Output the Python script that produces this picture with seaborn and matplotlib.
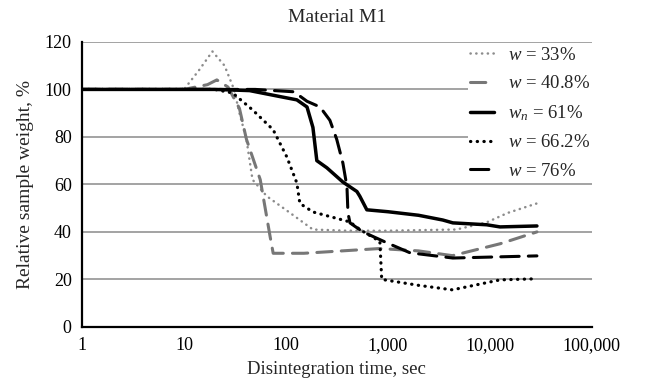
import numpy as np
import pandas as pd
import matplotlib
matplotlib.use('Agg')
import matplotlib.pyplot as plt
import matplotlib.ticker as ticker
import seaborn as sns

# 데이터
w33_t = [1, 5, 10, 14, 19, 25, 31, 35, 41, 47, 65, 102, 184, 400, 1000, 2500, 4700, 9300, 15000, 29000]
w33_v = [100, 100, 100, 108, 116, 110, 100, 90, 79, 62, 55, 49, 41, 40.5, 40.5, 40.8, 41, 44, 48, 52]

w40_t = [1, 10, 17, 21, 27, 35, 41, 56, 70, 75, 150, 834, 2000, 4300, 12600, 29000]
w40_v = [100, 100, 102, 104, 101, 92, 79, 62, 38, 31, 31, 33, 32, 30, 35, 40]

w61_t = [1, 20, 44, 87, 128, 161, 184, 201, 252, 362, 497, 531, 622, 1000, 2000, 3460, 4340, 9330, 12600, 29000]
w61_v = [100, 100, 99.5, 97, 95.6, 92.6, 84, 70, 67, 61, 57, 55, 49.3, 48.5, 47, 45, 43.8, 43, 42.1, 42.5]

w66_t = [1, 20, 30, 47, 75, 102, 128, 137, 184, 424, 531, 835, 870, 2000, 4300, 12600, 26000]
w66_v = [100, 100, 98.5, 91.4, 83, 71.6, 60.6, 52, 48.4, 44.2, 41, 36, 20, 17.5, 15.6, 19.8, 20.2]

w76_t = [1, 50, 120, 161, 216, 270, 315, 362, 397, 406, 425, 569, 980, 1650, 4340, 29000]
w76_v = [100, 100, 99, 95, 92.6, 87, 79, 69, 59, 48, 43.8, 40, 35.4, 31.2, 29, 29.9]

labels = [r'$w$ = 33%', r'$w$ = 40.8%', r'$w_n$ = 61%', r'$w$ = 66.2%', r'$w$ = 76%']
x_ticks = [1, 10, 100, 1000, 10000, 100000]
x_ticklabels = ['1', '10', '100', '1,000', '10,000', '100,000']

# (시간, 값, 색, 선 스타일, 두께)
series = [
    (w33_t, w33_v, '#8c8c8c', (0, (0.1, 2.2)), 1.8),
    (w40_t, w40_v, '#777777', (0, (5, 3)), 2.2),
    (w61_t, w61_v, 'black', '-', 2.5),
    (w66_t, w66_v, 'black', (0, (0.1, 2.0)), 2.3),
    (w76_t, w76_v, 'black', (0, (6, 3)), 2.2),
]

sns.set_style('white')
plt.rcParams['font.family'] = ['Liberation Serif', 'DejaVu Serif']
plt.rcParams['mathtext.fontset'] = 'custom'
plt.rcParams['mathtext.rm'] = 'Liberation Serif'
plt.rcParams['mathtext.it'] = 'Liberation Serif:italic'

fig = plt.figure(figsize=(6.46, 3.81), dpi=100)
ax = fig.add_axes([0.127, 0.142, 0.789, 0.748])

for (t, v, c, ls, lw), lab in zip(series, labels):
    df = pd.DataFrame({'t': t, 'v': v})
    sns.lineplot(data=df, x='t', y='v', ax=ax, color=c, linestyle=ls, linewidth=lw,
                 label=lab, dash_capstyle='round')

ax.set_xscale('log')
ax.set_xlim(1, 100000)
ax.set_ylim(0, 120)
ax.set_xticks(x_ticks)
ax.set_xticklabels(x_ticklabels)
ax.xaxis.set_minor_locator(ticker.NullLocator())
ax.set_yticks(range(0, 121, 20))
ax.grid(axis='y', color='#8a8a8a', linewidth=1.1)
ax.tick_params(axis='both', labelsize=13, length=4, width=1, direction='out', colors='black')
ax.tick_params(axis='x', pad=3)
for s in ['top', 'right']:
    ax.spines[s].set_visible(False)
for s in ['left', 'bottom']:
    ax.spines[s].set_color('black')
    ax.spines[s].set_linewidth(1.6)

ax.set_title('Material M1', fontsize=14, pad=14)
ax.set_xlabel('Disintegration time, sec', fontsize=13.5, labelpad=5)
ax.set_ylabel('Relative sample weight, %', fontsize=14, labelpad=8)

leg = ax.legend(loc='upper right', bbox_to_anchor=(1.0, 0.99), fontsize=13.5, frameon=True,
                handlelength=1.3, handletextpad=0.7, labelspacing=0.6, borderpad=0.1,
                borderaxespad=0.0)
leg.get_frame().set_edgecolor('none')
leg.get_frame().set_facecolor('white')
leg.get_frame().set_alpha(1)

fig.savefig('out.png', dpi=100)
